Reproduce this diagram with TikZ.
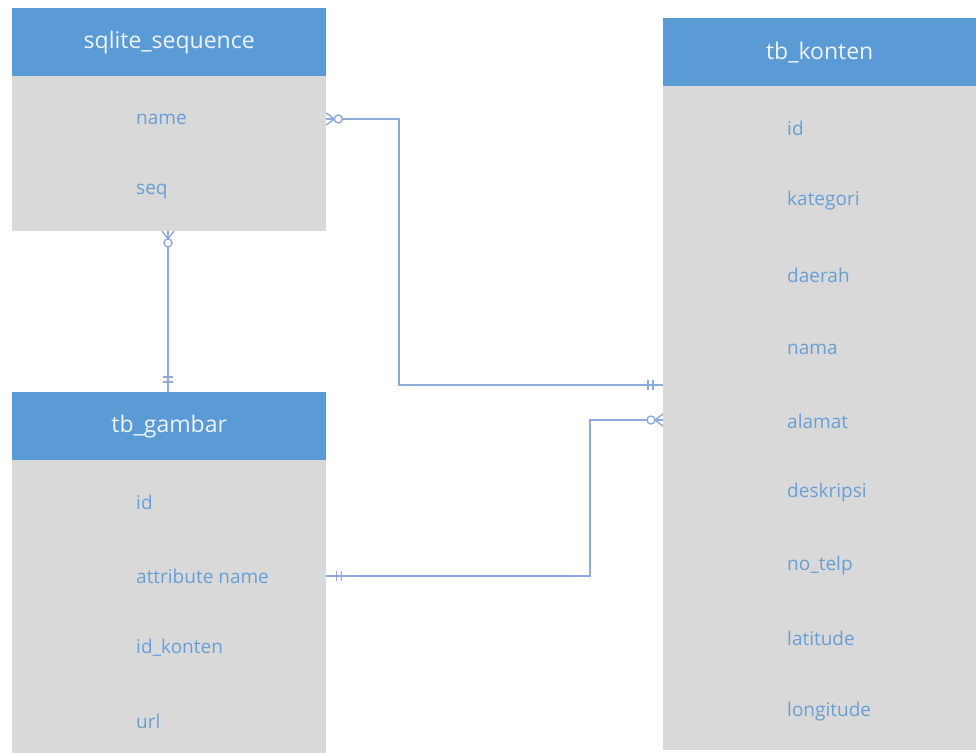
\documentclass[tikz,border=0pt]{standalone}
\usepackage{fontspec}
\setmainfont{Open Sans}
\definecolor{hdrblue}{HTML}{5B9BD5}
\definecolor{bodygray}{HTML}{D9D9D9}
\definecolor{fieldblue}{HTML}{6A9FD6}
\definecolor{hdrtext}{HTML}{EEF4FB}
\definecolor{linecol}{HTML}{8EAADB}
\tikzset{
  hdr/.style={fill=hdrblue, draw=none, anchor=north west, inner sep=0pt,
    text=hdrtext, font=\fontsize{23}{27}\selectfont, minimum height=68pt},
  bodybox/.style={fill=bodygray, draw=none, anchor=north west, inner sep=0pt},
  field/.style={anchor=west, inner sep=0pt, text=fieldblue, font=\fontsize{19}{22}\selectfont},
  rel/.style={draw=linecol, line width=1.4pt},
  pics/zeromany/.style={code={
    \draw[rel] (0,-6) -- (8,0) -- (0,6);
    \draw[rel] (0,0) -- (8,0);
    \draw[rel, fill=white] (12,0) circle (4);
  }},
  pics/onlyone/.style={code={
    \draw[rel] (10,-5) -- (10,5);
    \draw[rel] (15,-5) -- (15,5);
  }}
}
\begin{document}
\begin{tikzpicture}[x=1pt, y=-1pt]
\useasboundingbox[fill=white] (0,0) rectangle (976,753);
% sqlite_sequence
\node[hdr, minimum width=314pt] (sqh) at (12,8) {sqlite\_sequence};
\node[bodybox, minimum width=314pt, minimum height=155pt] (sqb) at (12,76) {};
\node[field] (sqname) at (136,119) {name};
\node[field] (sqseq) at (136,192) {seq};
% tb_konten
\node[hdr, minimum width=313pt] (tkh) at (663,18) {tb\_konten};
\node[bodybox, minimum width=313pt, minimum height=664pt] (tkb) at (663,86) {};
\node[field] (kid) at (787,128) {id};
\node[field] (kkat) at (787,201) {kategori};
\node[field] (kdae) at (787,275) {daerah};
\node[field] (knama) at (787,349) {nama};
\node[field] (kalamat) at (787,421) {alamat};
\node[field] (kdesk) at (787,493) {deskripsi};
\node[field] (ktelp) at (787,566) {no\_telp};
\node[field] (klat) at (787,638) {latitude};
\node[field] (klon) at (787,712) {longitude};
% tb_gambar
\node[hdr, minimum width=314pt] (tgh) at (12,392) {tb\_gambar};
\node[bodybox, minimum width=314pt, minimum height=293pt] (tgb) at (12,460) {};
\node[field] (gid) at (136,502) {id};
\node[field] (gattr) at (136,576) {attribute name};
\node[field] (gidk) at (136,648) {id\_konten};
\node[field] (gurl) at (136,721) {url};
% connectors
\coordinate (j1) at (399,385);
\coordinate (j2) at (590,420);
\coordinate (sqbot) at (168,231);
\draw[rel] (sqname.west -| sqb.east) -| (j1) -- (j1 -| tkb.west);
\draw[rel] (sqbot) -- (sqbot |- tgh.north);
\draw[rel] (gattr.west -| tgb.east) -| (j2) -- (j2 -| tkb.west);
% end markers
\pic at (sqname.west -| sqb.east) {zeromany};
\pic[rotate=180] at (j1 -| tkb.west) {onlyone};
\pic[rotate=-90] at (sqbot) {zeromany};
\pic[rotate=90] at (sqbot |- tgh.north) {onlyone};
\pic at (gattr.west -| tgb.east) {onlyone};
\pic[rotate=180] at (j2 -| tkb.west) {zeromany};
\end{tikzpicture}
\end{document}
